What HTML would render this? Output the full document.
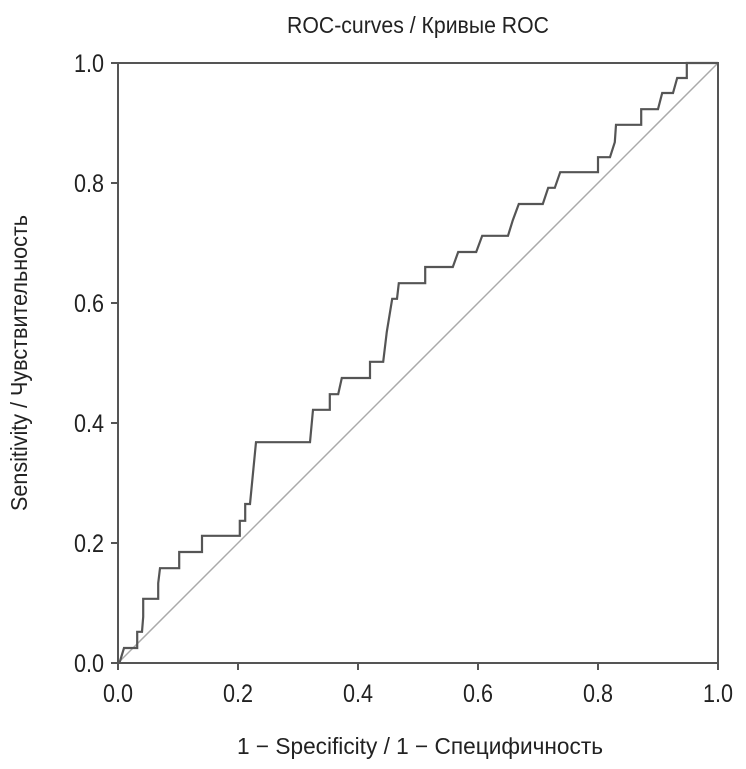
<!DOCTYPE html>
<html><head><meta charset="utf-8"><style>
html,body{margin:0;padding:0;background:#fff;}
svg text{font-family:"Liberation Sans","DejaVu Sans",sans-serif;fill:#222;}
</style></head><body>
<svg id="chart" width="746" height="764" viewBox="0 0 746 764" xmlns="http://www.w3.org/2000/svg">
<text x="418" y="33" font-size="23" text-anchor="middle" textLength="262" lengthAdjust="spacingAndGlyphs">ROC-curves / Кривые ROC</text>
<text x="420" y="754" font-size="23" text-anchor="middle" textLength="366" lengthAdjust="spacingAndGlyphs">1 − Specificity / 1 − Специфичность</text>
<text transform="translate(27,363) rotate(-90)" font-size="23" text-anchor="middle" textLength="296" lengthAdjust="spacingAndGlyphs">Sensitivity / Чувствительность</text>
<g id="ticks"></g>
<line x1="118" y1="663" x2="718" y2="63" stroke="#aaa" stroke-width="1.5"/>
<path id="roc" fill="none" stroke="#555" stroke-width="2.2" stroke-linejoin="miter"/>
<rect x="118" y="63" width="600" height="600" fill="none" stroke="#555" stroke-width="2"/>
</svg>
<script>
const xTicks = [0, 0.2, 0.4, 0.6, 0.8, 1.0];
const yTicks = [0, 0.2, 0.4, 0.6, 0.8, 1.0];
const tickLabels = ["0.0", "0.2", "0.4", "0.6", "0.8", "1.0"];
const fpr = [0,.003,.010,.032,.032,.040,.042,.042,.067,.067,.070,.102,.102,.140,.140,.203,.203,.212,.212,.220,.230,.320,.325,.353,.353,.367,.373,.420,.420,.442,.448,.457,.465,.468,.512,.512,.558,.567,.597,.607,.650,.658,.668,.708,.717,.728,.737,.800,.800,.820,.828,.830,.872,.872,.900,.907,.925,.932,.948,.948,1];
const tpr = [0,.002,.025,.025,.052,.052,.077,.107,.107,.133,.158,.158,.185,.185,.212,.212,.237,.237,.265,.265,.368,.368,.422,.422,.448,.448,.475,.475,.502,.502,.552,.607,.607,.633,.633,.660,.660,.685,.685,.712,.712,.738,.765,.765,.792,.792,.818,.818,.843,.843,.868,.897,.897,.923,.923,.950,.950,.975,.975,1,1];
const X0=118, Y0=663, W=600, H=600;
const sx = v => X0 + v*W;
const sy = v => Y0 - v*H;
const NS="http://www.w3.org/2000/svg";
const g=document.getElementById('ticks');
xTicks.forEach((v,i)=>{
  const l=document.createElementNS(NS,'line');
  
  
  l.setAttribute('x1',sx(v));l.setAttribute('x2',sx(v));l.setAttribute('y1',Y0);l.setAttribute('y2',Y0+7);
  l.setAttribute('stroke','#555');l.setAttribute('stroke-width','2');g.appendChild(l);
  const t=document.createElementNS(NS,'text');
  
  
  t.setAttribute('x',sx(v));t.setAttribute('y',Y0+39);t.setAttribute('font-size','25');t.setAttribute('text-anchor','middle');
  t.setAttribute('textLength','30');t.setAttribute('lengthAdjust','spacingAndGlyphs');
  t.textContent=tickLabels[i];g.appendChild(t);
});
yTicks.forEach((v,i)=>{
  const l=document.createElementNS(NS,'line');
  
  
  l.setAttribute('x1',X0-7);l.setAttribute('x2',X0);l.setAttribute('y1',sy(v));l.setAttribute('y2',sy(v));
  l.setAttribute('stroke','#555');l.setAttribute('stroke-width','2');g.appendChild(l);
  const t=document.createElementNS(NS,'text');
  
  
  t.setAttribute('x',X0-14);t.setAttribute('y',sy(v)+9);t.setAttribute('font-size','25');t.setAttribute('text-anchor','end');
  t.setAttribute('textLength','30');t.setAttribute('lengthAdjust','spacingAndGlyphs');
  t.textContent=tickLabels[i];g.appendChild(t);
});
let d='';
fpr.forEach((v,i)=>{ d+=(i?'L':'M')+sx(v).toFixed(1)+','+sy(tpr[i]).toFixed(1); });
document.getElementById('roc').setAttribute('d',d);
</script>
</body></html>
